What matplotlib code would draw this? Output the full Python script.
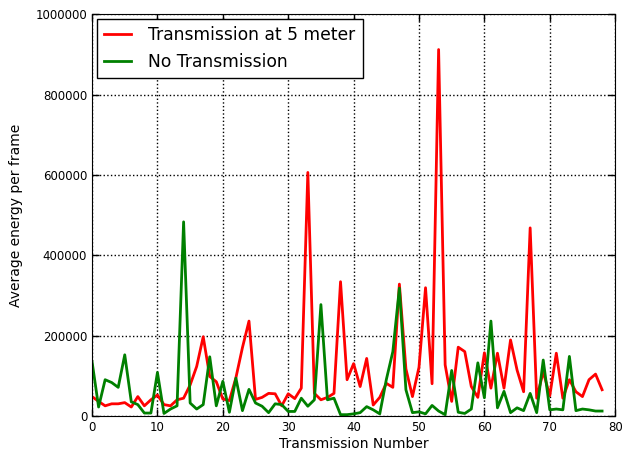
import numpy as np
import matplotlib
matplotlib.use('Agg')
import matplotlib.pyplot as plt

# Average energy per frame for each transmission
transmission_5m = [
    48000, 36000, 25000, 30000, 30000, 33000, 22000, 48000, 25000, 40000,
    52000, 28000, 25000, 40000, 44000, 77000, 123000, 197000, 98000, 85000,
    42000, 38000, 95000, 170000, 236000, 41000, 46000, 56000, 55000, 25000,
    55000, 43000, 69000, 606000, 56000, 40000, 46000, 56000, 334000, 90000,
    130000, 73000, 143000, 27000, 46000, 81000, 71000, 328000, 117000, 48000,
    121000, 319000, 80000, 912000, 127000, 36000, 171000, 160000, 73000, 46000,
    157000, 69000, 156000, 69000, 189000, 114000, 60000, 468000, 44000, 110000,
    50000, 156000, 44000, 90000, 60000, 48000, 90000, 104000, 65000,
]
no_transmission = [
    135000, 22000, 90000, 83000, 71000, 152000, 35000, 28000, 7000, 7000,
    108000, 6000, 17000, 25000, 483000, 32000, 17000, 28000, 147000, 25000,
    86000, 9000, 94000, 13000, 66000, 32000, 24000, 8000, 30000, 28000,
    11000, 11000, 44000, 24000, 40000, 277000, 40000, 44000, 3000, 3000,
    5000, 8000, 23000, 15000, 5000, 90000, 160000, 318000, 65000, 8000,
    10000, 5000, 26000, 12000, 3000, 113000, 9000, 6000, 17000, 132000,
    45000, 236000, 20000, 61000, 8000, 20000, 13000, 56000, 8000, 139000,
    15000, 17000, 15000, 148000, 13000, 17000, 15000, 12000, 12000,
]
x = np.arange(len(transmission_5m))

plt.rcParams['xtick.direction'] = 'in'
plt.rcParams['ytick.direction'] = 'in'
plt.rcParams['xtick.top'] = True
plt.rcParams['ytick.right'] = True

fig, ax = plt.subplots(figsize=(6.22, 4.58), dpi=100)
fig.subplots_adjust(left=0.148, right=0.989, top=0.969, bottom=0.092)

ax.plot(x, transmission_5m, color='#ff0000', lw=2, label='Transmission at 5 meter')
ax.plot(x, no_transmission, color='#008000', lw=2, label='No Transmission')

ax.set_xlim(0, 80)
ax.set_ylim(0, 1000000)
ax.set_xticks(range(0, 81, 10))
ax.set_yticks(range(0, 1000001, 200000))
ax.ticklabel_format(style='plain', axis='y', useOffset=False)
ax.tick_params(labelsize=8.5, length=5, width=1, colors='black')
ax.grid(True, color='black', linestyle=':', linewidth=1)

ax.set_xlabel('Transmission Number', fontsize=10, labelpad=2)
ax.set_ylabel('Average energy per frame', fontsize=10, labelpad=9)

leg = ax.legend(loc='upper left', fontsize=12.3, fancybox=False, framealpha=1,
                edgecolor='black', borderaxespad=0.3, handlelength=1.6,
                handletextpad=1.0)
leg.get_frame().set_linewidth(1)

fig.savefig('out.png', dpi=100)
